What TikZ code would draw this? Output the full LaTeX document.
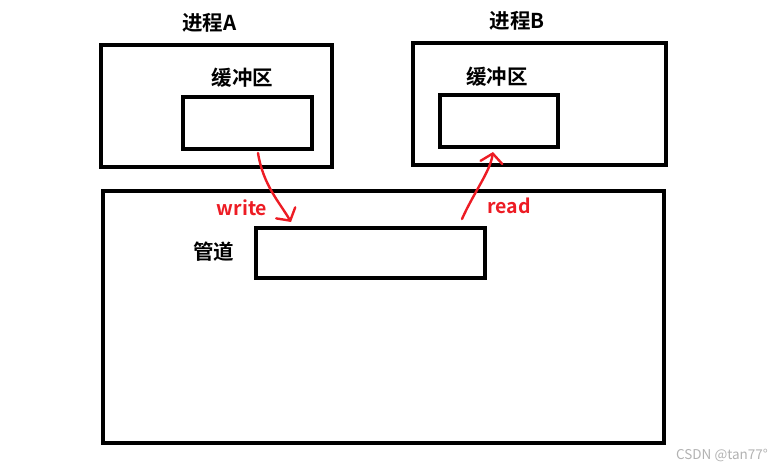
\documentclass[tikz,border=0pt]{standalone}
\usepackage{fontspec}
\setmainfont{Noto Sans CJK SC}
\newfontfamily\labelfont{Noto Sans CJK SC}[BoldFont={* Bold}]
\usetikzlibrary{arrows.meta, positioning, calc}
\usepackage{xcolor}
\definecolor{penred}{RGB}{237,28,36}

\tikzset{
    box/.style={draw, line width=4pt, inner sep=0pt},
    title/.style={font=\labelfont\bfseries\fontsize{20.5}{20.5}\selectfont},
    rwlabel/.style={font=\labelfont\bfseries\fontsize{19.5}{19.5}\selectfont, text=penred},
    flow/.style={draw=penred, line width=2.4pt, line cap=round, -{Straight Barb[length=9pt, width=22pt, line cap=round]}}
}

\begin{document}
\begin{tikzpicture}[x=1pt, y=-1pt]
    \useasboundingbox (0, 0) rectangle (779, 469);

    % Process A
    \node[box, minimum width=231pt, minimum height=122pt] (procA) at (216.5, 106) {};
    \node[box, minimum width=129pt, minimum height=52pt] (bufA) at (247.5, 123) {};
    \node[title] (procAlabel) at (209.5, 22.5) {进程A};
    \node[title] (bufAlabel) at (242.5, 77.5) {缓冲区};

    % Process B
    \node[box, minimum width=253pt, minimum height=122pt] (procB) at (539.5, 104) {};
    \node[box, minimum width=118pt, minimum height=52pt] (bufB) at (499, 121) {};
    \node[title] (procBlabel) at (517, 21) {进程B};
    \node[title] (bufBlabel) at (497, 77) {缓冲区};

    % Pipe
    \node[box, minimum width=561pt, minimum height=252pt] (pipe) at (383.5, 317) {};
    \node[box, minimum width=229pt, minimum height=50pt] (pipeBuf) at (370.5, 253) {};
    \node[title] (pipeLabel) at (213.5, 252) {管道};

    % Write / read
    \coordinate (wStart) at (258, 153);
    \coordinate (wEnd) at (291, 222);
    \coordinate (rStart) at (462, 219);
    \coordinate (rEnd) at (493, 152);
    \draw[flow] (wStart) .. controls (263, 185) and (280, 203) .. (wEnd);
    \draw[flow] (rStart) .. controls (474, 192) and (490, 172) .. (rEnd);
    \node[rwlabel] (writeLabel) at (242, 208) {write};
    \node[rwlabel] (readLabel) at (509, 206) {read};

    % Watermark
    \node[font=\labelfont\fontsize{13.5}{13.5}\selectfont, text=black!30] (mark) at (722, 455) {CSDN @tan77°};
\end{tikzpicture}
\end{document}
